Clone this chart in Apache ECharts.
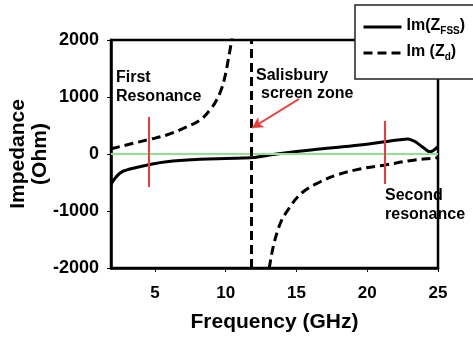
<!DOCTYPE html>
<html>
<head>
<meta charset="utf-8">
<script src="https://cdn.jsdelivr.net/npm/echarts@6/dist/echarts.min.js"></script>
<style>
html,body{margin:0;padding:0;background:#fff;}
#chart{width:473px;height:343px;}
</style>
</head>
<body>
<div id="chart"></div>
<script>
// ---- data (frequency GHz, impedance Ohm) ----
const xTicks = [5, 10, 15, 20, 25];
const yTicks = [-2000, -1000, 0, 1000, 2000];
const fssFreq = [1.9, 2.54, 3.24, 4.65, 5.83, 8.19, 10.0, 11.72, 12.6, 13.6, 15.0, 16.66, 19.48, 21.25, 22.3, 22.87, 23.15, 23.43, 24.0, 24.43, 24.71, 25.0];
const fssImp  = [-530, -333, -263, -184, -135, -93, -78, -67, -40, 0, 45, 88, 158, 216, 250, 263, 245, 210, 105, 40, 70, 128];
const dLowFreq = [1.9, 2.06, 3.47, 4.6, 5.83, 7.01, 8.19, 8.89, 9.36, 9.72, 9.95, 10.18, 10.42, 10.6];
const dLowImp  = [88, 100, 188, 255, 333, 450, 596, 772, 947, 1152, 1356, 1649, 2000, 2400];
const dHighFreq = [12.93, 13.08, 13.76, 14.54, 15.46, 16.66, 17.86, 19.48, 21.25, 23.02, 24.92, 25.0];
const dHighImp  = [-2500, -2000, -1280, -930, -667, -491, -368, -263, -193, -118, -65, -63];
const salisburyFreq = 11.79;
const firstResFreq = 4.58, firstResSpan = [650, -580];
const secondResFreq = 21.25, secondResSpan = [579, -526];
const arrowFrom = [15.18, 965], arrowTo = [11.86, 456];

const zip = (a, b) => a.map((v, i) => [v, b[i]]);
const dashedData = zip(dLowFreq, dLowImp).concat([[11.5, '-']], zip(dHighFreq, dHighImp));

const FONT = '"Liberation Sans", Arial, sans-serif';
const DASH = [9, 5];
const RED = '#f03a3a';

const chart = echarts.init(document.getElementById('chart'));
chart.setOption({
  animation: false,
  backgroundColor: '#fff',
  grid: { left: 111, right: 35, top: 40, bottom: 75, containLabel: false, outerBoundsMode: 'none',
          show: true, borderColor: '#000', borderWidth: 2.5, backgroundColor: 'transparent' },
  xAxis: {
    type: 'value', min: 1.9, max: 25,
    name: 'Frequency (GHz)', nameLocation: 'middle', nameGap: 44, nameMoveOverlap: false,
    nameTextStyle: { fontFamily: FONT, fontWeight: 'bold', fontSize: 21, color: '#000' },
    axisLine: { show: true, onZero: false, lineStyle: { color: '#000', width: 2.5 } },
    axisTick: { show: true, length: 4, customValues: xTicks, lineStyle: { color: '#000', width: 1 } },
    axisLabel: { customValues: xTicks, margin: 17, fontFamily: FONT, fontWeight: 'bold', fontSize: 17, color: '#000',
                 formatter: v => String(v) },
    splitLine: { show: false }
  },
  yAxis: {
    type: 'value', min: -2000, max: 2000, interval: 1000,
    name: 'Impedance\n(Ohm)', nameLocation: 'middle', nameGap: 60, nameMoveOverlap: false,
    nameTextStyle: { fontFamily: FONT, fontWeight: 'bold', fontSize: 21, lineHeight: 22, color: '#000' },
    axisLine: { show: true, onZero: false, lineStyle: { color: '#000', width: 2.5 } },
    axisTick: { show: true, length: 4, lineStyle: { color: '#000', width: 1 } },
    axisLabel: { margin: 12, fontFamily: FONT, fontWeight: 'bold', fontSize: 18, color: '#000',
                 formatter: v => String(v) },
    splitLine: { show: false }
  },
  legend: {
    left: 355, top: 5, orient: 'vertical',
    backgroundColor: '#fff', borderColor: '#222', borderWidth: 1.5,
    padding: [13, 14, 17, 7], itemGap: 8, itemWidth: 38, itemHeight: 14,
    itemStyle: { opacity: 0 },
    lineStyle: { width: 3 },
    data: ['Im(ZFSS)', 'Im (Zd)'],
    formatter: function (n) {
      return n === 'Im(ZFSS)' ? '{a|Im(Z}{b|FSS}{a|)}' : '{a|Im (Z}{b|d}{a|)}';
    },
    textStyle: {
      rich: {
        a: { fontFamily: FONT, fontWeight: 'bold', fontSize: 16, color: '#000', lineHeight: 18, padding: [0, 0, 2, 0], verticalAlign: 'bottom' },
        b: { fontFamily: FONT, fontWeight: 'bold', fontSize: 10, color: '#000', lineHeight: 10, verticalAlign: 'bottom' }
      }
    }
  },
  series: [
    {
      name: 'Im(ZFSS)', type: 'line', data: zip(fssFreq, fssImp),
      showSymbol: false, symbol: 'none', smooth: 0.4, clip: true,
      lineStyle: { color: '#000', width: 3 }, itemStyle: { color: '#000' },
      markLine: {
        silent: true, symbol: ['none', 'none'], label: { show: false },
        lineStyle: { color: '#8fe38f', width: 2, type: 'solid' },
        data: [{ yAxis: 0 }]
      },
      z: 3
    },
    {
      name: 'Im (Zd)', type: 'line', data: dashedData,
      showSymbol: false, symbol: 'none', smooth: 0.4, clip: true, connectNulls: false,
      lineStyle: { color: '#000', width: 3, type: DASH }, itemStyle: { color: '#000' },
      markLine: {
        silent: true, symbol: ['none', 'none'], label: { show: false },
        lineStyle: { color: '#000', width: 3, type: DASH },
        data: [{ xAxis: salisburyFreq }]
      },
      z: 3
    },
    {
      name: 'annotations', type: 'line', data: [], silent: true,
      markLine: {
        silent: true, symbol: ['none', 'none'], label: { show: false },
        lineStyle: { color: RED, width: 2, type: 'solid' },
        data: [
          [{ coord: [firstResFreq, firstResSpan[0]] }, { coord: [firstResFreq, firstResSpan[1]] }],
          [{ coord: [secondResFreq, secondResSpan[0]] }, { coord: [secondResFreq, secondResSpan[1]] }],
          [{ coord: arrowFrom, symbol: 'none' }, { coord: arrowTo, symbol: 'arrow', symbolSize: [9, 11] }]
        ]
      },
      z: 4
    }
  ],
  graphic: [
    { type: 'text', left: 116, top: 70, style: { text: 'First', font: 'bold 16px ' + FONT, fill: '#000' } },
    { type: 'text', left: 116, top: 89, style: { text: 'Resonance', font: 'bold 16px ' + FONT, fill: '#000' } },
    { type: 'text', left: 256, top: 68, style: { text: 'Salisbury', font: 'bold 16px ' + FONT, fill: '#000' } },
    { type: 'text', left: 261, top: 85.5, style: { text: 'screen zone', font: 'bold 16px ' + FONT, fill: '#000' } },
    { type: 'text', left: 385, top: 187.5, style: { text: 'Second', font: 'bold 16px ' + FONT, fill: '#000' } },
    { type: 'text', left: 385, top: 206.5, style: { text: 'resonance', font: 'bold 16px ' + FONT, fill: '#000' } }
  ]
});
</script>
</body>
</html>
